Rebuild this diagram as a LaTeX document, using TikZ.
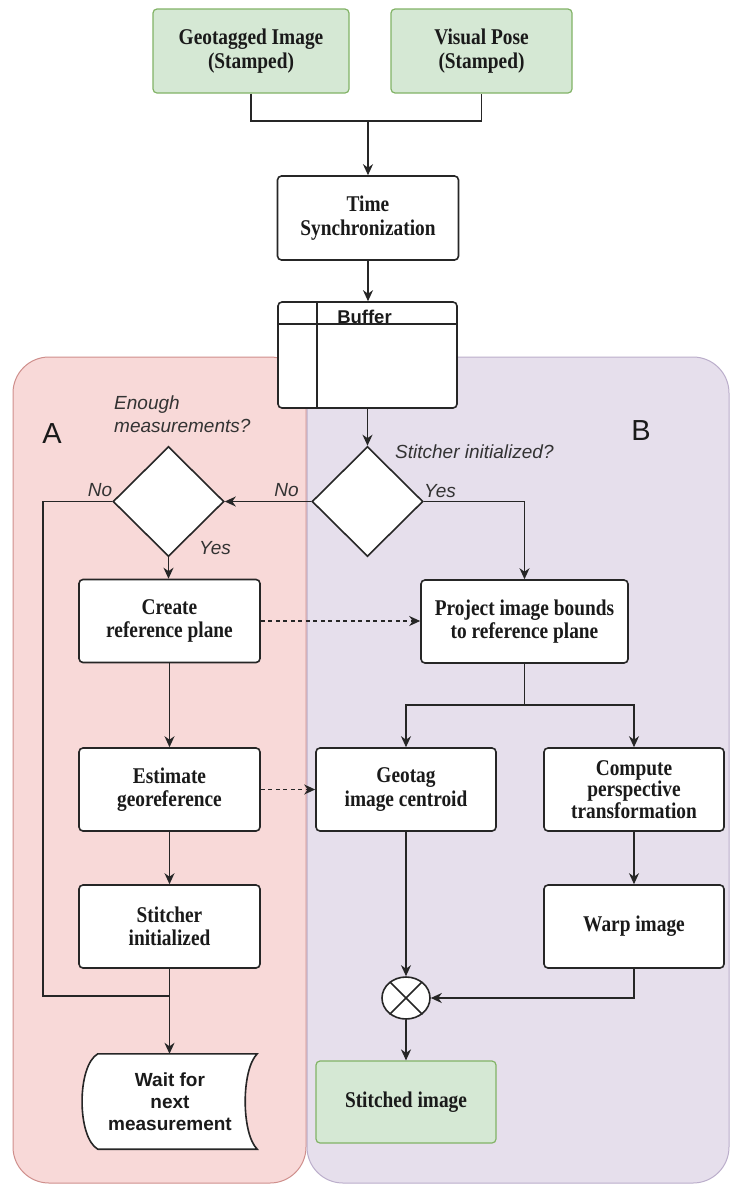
\documentclass[tikz,border=0pt]{standalone}
\usepackage{fontspec}
\usetikzlibrary{arrows.meta,shapes.geometric,calc}
\newfontfamily\boxfont[FakeStretch=0.86]{Liberation Serif}
\newfontfamily\lblfont{Liberation Sans}
\definecolor{linegray}{HTML}{262626}
\definecolor{textdark}{HTML}{1A1A1A}
\definecolor{labelgray}{HTML}{333333}
\definecolor{lanered}{HTML}{F8D9D8}
\definecolor{laneredborder}{HTML}{CF8F8C}
\definecolor{lanepurple}{HTML}{E6DFEC}
\definecolor{lanepurpleborder}{HTML}{BBAECB}
\definecolor{greenfill}{HTML}{D5E8D4}
\definecolor{greenborder}{HTML}{82B366}
\begin{document}
\begin{tikzpicture}[x=1pt,y=-1pt,
  line/.style={draw=linegray, line width=1.6pt},
  arr/.style={line, -{Stealth[length=11pt,width=10pt,inset=3.5pt]}},
  dasharr/.style={arr, dash pattern=on 4pt off 3.5pt},
  proc/.style={draw=linegray, line width=1.6pt, fill=white, rounded corners=4pt,
    minimum width=#1, minimum height=83pt, inner sep=0pt, align=center,
    text=textdark, font=\boxfont\bfseries\fontsize{22.5}{23.5}\selectfont},
  proc/.default=181pt,
  io/.style={proc=#1, fill=greenfill, draw=greenborder, line width=1.2pt},
  io/.default=181pt,
  decision/.style={diamond, draw=linegray, line width=1.6pt, fill=white,
    minimum width=111pt, minimum height=110pt, inner sep=0pt},
  lane/.style={rounded corners=36pt, line width=1pt},
  lanelabel/.style={font=\lblfont\fontsize{29}{29}\selectfont, text=textdark, inner sep=0pt},
  qlabel/.style={font=\lblfont\itshape\fontsize{19}{23}\selectfont, text=labelgray, inner sep=0pt},
  sansbold/.style={font=\lblfont\bfseries\fontsize{19}{22}\selectfont, text=textdark, inner sep=0pt, align=center}
]
\useasboundingbox (0,0) rectangle (732,1184);
\fill[white] (0,0) rectangle (732,1184);

% swimlanes
\node[lane, fill=lanered, draw=laneredborder, minimum width=293pt, minimum height=826pt] (laneA) at (159.5,770) {};
\node[lane, fill=lanepurple, draw=lanepurpleborder, minimum width=422pt, minimum height=826pt] (laneB) at (518,770) {};
\node[lanelabel] (labA) at (52,434) {A};
\node[lanelabel] (labB) at (641,431) {B};

% inputs and synchronisation
\node[io=196pt, minimum height=84pt] (geo) at (251,51) {Geotagged Image\\(Stamped)};
\node[io=181pt, minimum height=84pt] (pose) at (481.5,51) {Visual Pose\\(Stamped)};
\node[proc=181pt, minimum height=84pt] (sync) at (368,218) {Time\\Synchronization};
\node[draw=linegray, line width=1.6pt, fill=white, rounded corners=4pt,
  minimum width=179pt, minimum height=106pt, inner sep=0pt] (buffer) at (367.5,355) {};
\coordinate (bufrow) at (0,324);
\coordinate (bufcol) at (317,0);
\draw[line] (buffer.west |- bufrow) -- (buffer.east |- bufrow);
\draw[line] (bufcol |- buffer.north) -- (bufcol |- buffer.south);
\node[font=\lblfont\bfseries\fontsize{18.5}{18.5}\selectfont, text=textdark, inner sep=0pt] (buftitle) at (364.5,316.5) {Buffer};

% decisions
\node[decision] (enough) at (168.5,501.5) {};
\node[decision] (stitchq) at (367.5,501.5) {};
\node[qlabel, anchor=west, align=left] (qenough) at (114,414.5) {Enough\\measurements?};
\node[qlabel, anchor=west] (qstitch) at (395,452) {Stitcher initialized?};
\node[qlabel] (noA) at (100,490) {No};
\node[qlabel] (noB) at (286.5,490) {No};
\node[qlabel] (yesB) at (440,491) {Yes};
\node[qlabel] (yesA) at (215,548) {Yes};

% lane A steps
\node[proc] (create) at (169.5,621) {Create\\reference plane};
\node[proc] (estimate) at (169.5,789.5) {Estimate\\georeference};
\node[proc] (stinit) at (169.5,926.5) {Stitcher\\initialized};
\node[sansbold, minimum width=174pt, minimum height=95pt] (wait) at (170,1101.5) {Wait for\\next\\measurement};
\draw[line, fill=white]
  ($(wait.north west)+(15,0)$) -- (wait.north east)
  .. controls ($(wait.north east)+(-16,16)$) and ($(wait.south east)+(-16,-16)$) .. (wait.south east)
  -- ($(wait.south west)+(15,0)$)
  .. controls ($(wait.south west)+(-6,-12)$) and ($(wait.north west)+(-6,12)$) .. cycle;
\node[sansbold] at (wait) {Wait for\\next\\measurement};

% lane B steps
\node[proc=207pt] (project) at (524.5,621.5) {Project image bounds\\to reference plane};
\node[proc=180pt] (geotag) at (406,789.5) {Geotag\\image centroid};
\node[proc=180pt, font=\boxfont\bfseries\fontsize{22.5}{21.5}\selectfont] (compute) at (634,789.5) {Compute\\perspective\\transformation};
\node[proc=180pt] (warp) at (634,926.5) {Warp image};
\node[ellipse, draw=linegray, line width=1.6pt, fill=white, minimum width=48pt, minimum height=42pt, inner sep=0pt] (xor) at (406,998) {};
\draw[line] (xor.45) -- (xor.225);
\draw[line] (xor.135) -- (xor.315);
\node[io=180pt, minimum height=82pt] (stitched) at (406,1102) {Stitched image};

% connectors
\coordinate (jointop) at (368,121);
\draw[line] (geo.south) |- (jointop) -| (pose.south);
\draw[arr] (jointop) -- (sync.north);
\draw[arr] (sync.south) -- (sync.south |- buffer.north);
\draw[arr] (stitchq.north |- buffer.south) -- (stitchq.north);
\draw[arr] (stitchq.west) -- (enough.east);
\draw[arr] (stitchq.east) -| (project.north);
\draw[arr] (enough.south) -- (enough.south |- create.north);

\coordinate (loopx) at (43,0);
\coordinate (loopy) at (0,996);
\draw[line] (enough.west) -| (loopx |- loopy) -- (stinit.south |- loopy);

\draw[arr] (create.south) -- (estimate.north);
\draw[arr] (estimate.south) -- (stinit.north);
\draw[arr] (stinit.south) -- (stinit.south |- wait.north);
\draw[dasharr] (create.east) -- (create.east -| project.west);
\draw[dasharr] (estimate.east) -- (geotag.west);

\coordinate (split) at (0,705);
\draw[line] (project.south) -- (project.south |- split);
\draw[arr] (project.south |- split) -| (geotag.north);
\draw[arr] (project.south |- split) -| (compute.north);
\draw[arr] (geotag.south) -- (xor.north);
\draw[arr] (compute.south) -- (warp.north);
\draw[arr] (warp.south) |- (xor.east);
\draw[arr] (xor.south) -- (stitched.north);
\end{tikzpicture}
\end{document}
